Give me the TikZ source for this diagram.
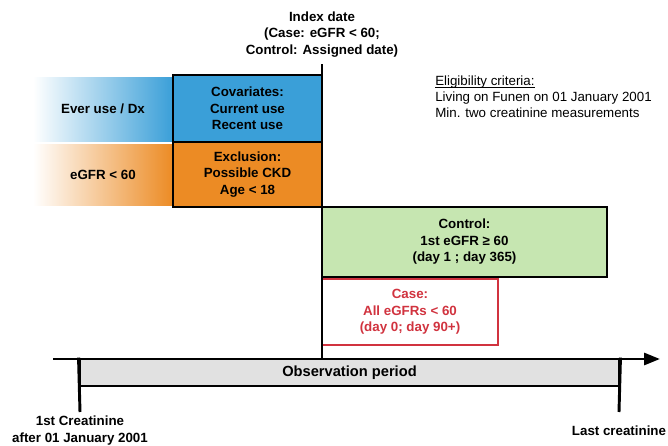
\documentclass[tikz,border=0pt]{standalone}
\usepackage{fontspec}
\setmainfont{Liberation Sans}
\usetikzlibrary{arrows.meta,positioning,calc}
\definecolor{covblue}{HTML}{3A9FD8}
\definecolor{exclorange}{HTML}{EC8B24}
\definecolor{ctrlgreen}{HTML}{C6E6B1}
\definecolor{casered}{HTML}{D1333F}
\definecolor{obsgray}{HTML}{E1E1E1}
\newlength\ullen
\newcommand\elunder[1]{\settowidth{\ullen}{#1}\rlap{\rule[-1.6pt]{\ullen}{0.5pt}}#1}
\tikzset{
    box/.style={draw, line width=2.2pt, align=center, inner sep=0pt,
        font=\fontsize{10}{12.4}\selectfont\bfseries},
    fade/.style={align=center, inner sep=0pt,
        font=\fontsize{10}{12.4}\selectfont\bfseries},
    lbl/.style={align=center, inner sep=1pt,
        font=\fontsize{10}{12.6}\selectfont\bfseries},
    timeline/.style={line width=2.2pt, -{Triangle[length=12pt,width=9pt]}},
    bar/.style={line width=2.2pt}
}

\begin{document}
\begin{tikzpicture}[x=0.75pt,y=-0.75pt]
    \useasboundingbox (0,0) rectangle (668,446);

    \node[fade, left color=white, right color=covblue, minimum width=105pt, minimum height=48pt] (1) at (103,109) {Ever use / Dx};
    \node[fade, left color=white, right color=exclorange, minimum width=105pt, minimum height=45.75pt] (2) at (103,174.5) {eGFR < 60};
    \node[box, fill=covblue, minimum width=111.75pt, minimum height=50.25pt] (3) at (247.5,108.5) {Covariates:\\Current use\\Recent use};
    \node[box, fill=exclorange, minimum width=111.75pt, minimum height=48.75pt] (4) at (247.5,174.5) {Exclusion:\\Possible CKD\\Age < 18};
    \node[box, fill=ctrlgreen, minimum width=213.75pt, minimum height=52.5pt] (5) at (464.5,242) {Control:\\1st eGFR ≥ 60\\(day 1 ; day 365)};
    \node[box, draw=casered, text=casered, fill=white, line width=2pt, minimum width=132pt, minimum height=49.5pt] (6) at (410,312) {Case:\\All eGFRs < 60\\(day 0; day 90+)};
    \node[box, fill=obsgray, minimum width=404.25pt, minimum height=20.25pt, font=\fontsize{11}{13}\selectfont\bfseries] (7) at (349.5,372.5) {Observation period};

    \node[lbl] (8) at (322,34.5) {Index date\\(Case: eGFR < 60;\\Control: Assigned date)};
    \node[align=left, anchor=west, inner sep=0pt, font=\fontsize{10}{12}\selectfont] (9) at (435,97) {\elunder{Eligibility criteria:}\\Living on Funen on 01 January 2001\\Min. two creatinine measurements};
    \node[lbl] (10) at (80,430.5) {1st Creatinine\\after 01 January 2001};
    \node[lbl] (11) at (619,431) {Last creatinine};

    \coordinate (a0) at (53,359);
    \coordinate (a1) at (660,359);
    \coordinate (i0) at (322,64);
    \coordinate (t1) at (80,412);
    \coordinate (t2) at (619,412);

    \draw[timeline] (a0) -- (a1);
    \draw[bar] (7.north west) -- (t1);
    \draw[bar] (7.north east) -- (t2);
    \draw[bar] (i0) -- (i0 |- a0);
\end{tikzpicture}
\end{document}
